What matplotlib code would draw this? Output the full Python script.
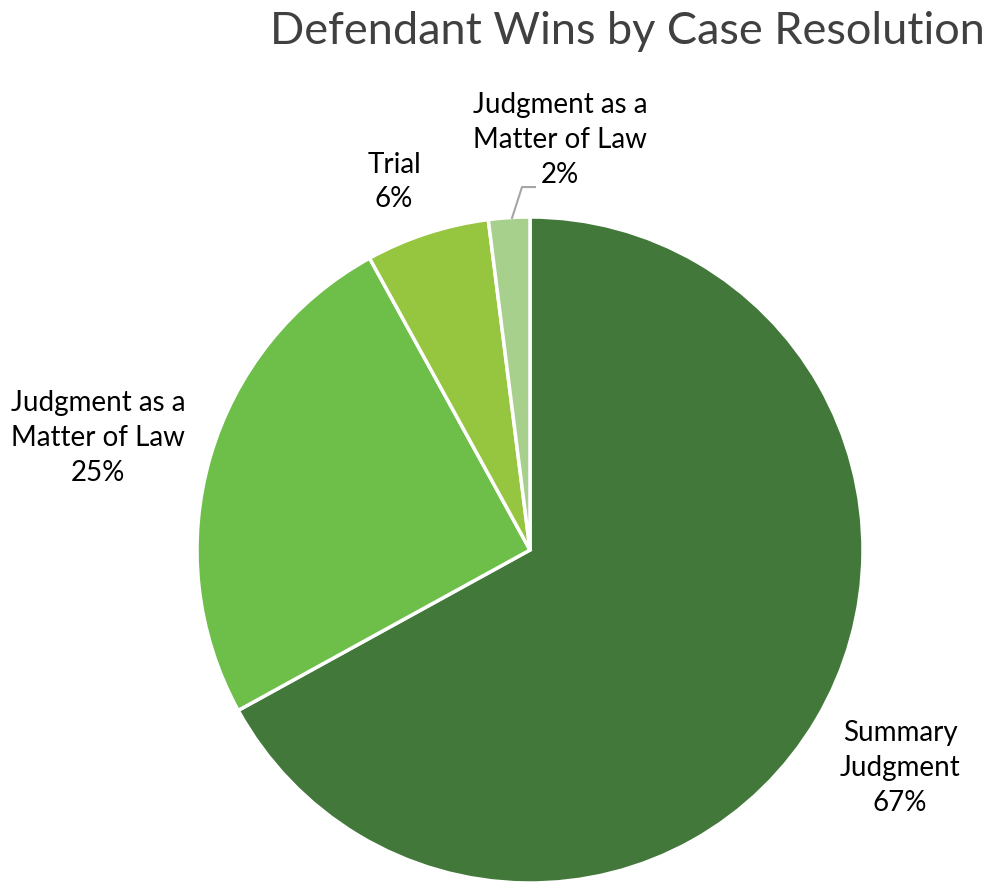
import matplotlib.pyplot as plt

# Data
categories = ["Summary\nJudgment", "Judgment as a\nMatter of Law", "Trial", "Judgment as a\nMatter of Law"]
shares = [67, 25, 6, 2]
colors = ["#43783b", "#6ebe4a", "#96c53f", "#a8d08d"]

# label centres in axes data units (pie radius = 1)
label_pos = [(1.111, -0.655), (-1.297, 0.336), (-0.408, 1.105), (0.09, 1.231)]

plt.rcParams['font.family'] = ['Lato', 'DejaVu Sans']

fig = plt.figure(figsize=(9.9, 8.82), dpi=100)
ax = fig.add_axes([197 / 990, -1 / 882, 666 / 990, 666 / 882])

wedges, _ = ax.pie(shares, colors=colors, startangle=90, counterclock=False,
                   radius=1, wedgeprops=dict(edgecolor='white', linewidth=2.5))
ax.set_xlim(-1, 1)
ax.set_ylim(-1, 1)
ax.set_aspect('equal')
ax.axis('off')

for cat, val, (lx, ly) in zip(categories, shares, label_pos):
    ax.text(lx, ly, f"{cat}\n{val}%", ha='center', va='center', fontsize=20,
            color='black', linespacing=1.42, clip_on=False)

# leader line for the small slice
ax.plot([-0.054, -0.024, 0.015], [0.997, 1.090, 1.090], color='#a6a6a6', lw=1.5,
        clip_on=False)

fig.text(627 / 990, 1 - 32 / 882, "Defendant Wins by Case Resolution", ha='center',
         va='center', fontsize=32.5, color='#404040')

fig.savefig("out.png", dpi=100)
